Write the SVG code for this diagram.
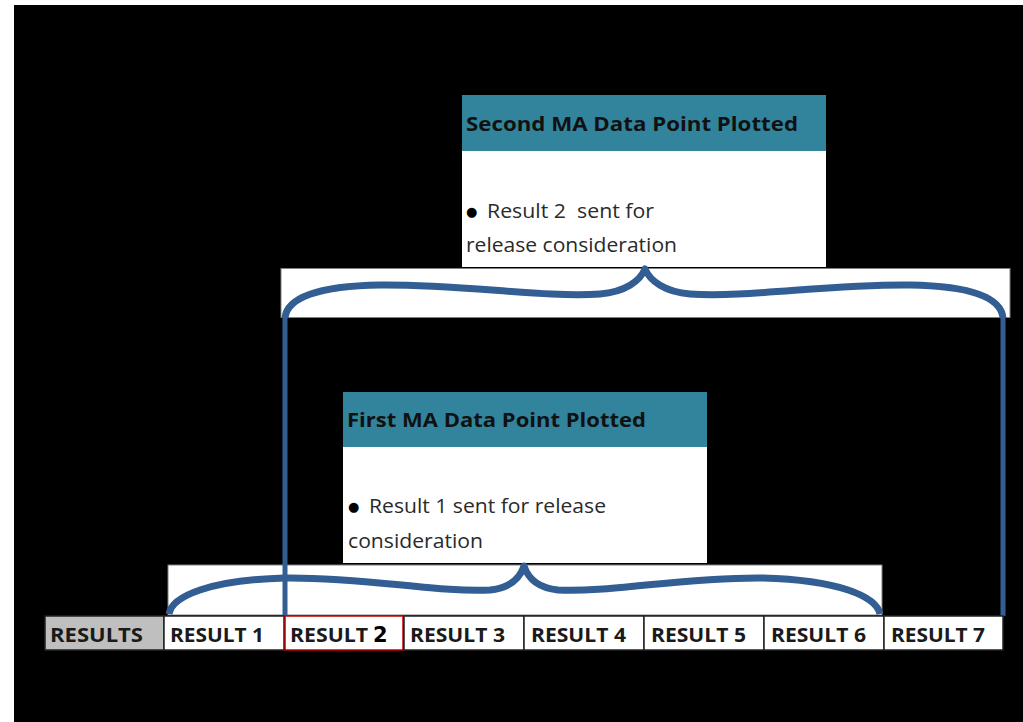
<svg xmlns="http://www.w3.org/2000/svg" width="1023" height="722" viewBox="0 0 1023 722">
<style>
.hdr{fill:#31849B}
.body{fill:#ffffff}
.brbox{fill:#ffffff;stroke:#808080;stroke-width:1}
.brace{fill:none;stroke:#325E94;stroke-width:7;stroke-linecap:butt;stroke-linejoin:round}
.vline{fill:none;stroke:#325E94;stroke-width:5}
.ht{font-family:"Open Sans","Liberation Sans",sans-serif;font-weight:bold;font-size:20px;fill:#111}
.bt{font-family:"Open Sans","Liberation Sans",sans-serif;font-size:20px;fill:#2a2a2a}
.bul{font-family:"DejaVu Sans",sans-serif;font-size:13px;fill:#000}
.cell{fill:#ffffff;stroke:#222;stroke-width:1.5}
.ct{font-family:"Open Sans","Liberation Sans",sans-serif;font-weight:bold;font-size:19px;fill:#1a1a1a}
</style>
<rect x="0" y="0" width="1023" height="722" fill="#000"/>
<rect x="0" y="0" width="1023" height="5" fill="#fff"/>
<rect x="0" y="0" width="14" height="722" fill="#fff"/>

<g id="bracket-top-box">
<rect class="brbox" x="281" y="268.5" width="729" height="49"/>
</g>
<g id="bracket-bottom-box">
<rect class="brbox" x="168" y="565" width="714" height="50"/>
</g>

<g id="node-second">
<rect class="hdr" x="462" y="95" width="364" height="56"/>
<rect class="body" x="462" y="151" width="364" height="116"/>
<text class="ht" x="466" y="131" textLength="332" lengthAdjust="spacingAndGlyphs">Second MA Data Point Plotted</text>
<text class="bul" x="466" y="216">●</text>
<text class="bt" x="487" y="218" xml:space="preserve" textLength="167" lengthAdjust="spacingAndGlyphs">Result 2  sent for</text>
<text class="bt" x="466" y="252" textLength="211" lengthAdjust="spacingAndGlyphs">release consideration</text>
</g>

<g id="node-first">
<rect class="hdr" x="343" y="392" width="364" height="55"/>
<rect class="body" x="343" y="447" width="364" height="116"/>
<text class="ht" x="347" y="427" textLength="299" lengthAdjust="spacingAndGlyphs">First MA Data Point Plotted</text>
<text class="bul" x="348" y="511">●</text>
<text class="bt" x="369" y="513" textLength="237" lengthAdjust="spacingAndGlyphs">Result 1 sent for release</text>
<text class="bt" x="348" y="548" textLength="135" lengthAdjust="spacingAndGlyphs">consideration</text>
</g>

<g id="connectors">
<path class="brace" d="M 285 318 C 287 297, 320 286, 380 285 C 460 284, 545 298, 600 294 C 625 292, 640 281, 645 269 C 650 281, 665 292, 690 294 C 745 298, 830 284, 910 285 C 970 286, 1001 297, 1003 318"/>
<path class="brace" d="M 169 614 C 172 596, 210 580, 285 578 C 365 577, 440 593, 490 590 C 510 588, 520 578, 524 566 C 528 578, 538 588, 558 590 C 608 593, 683 577, 763 578 C 838 580, 876 596, 880 614"/>
<line class="vline" x1="285" y1="316" x2="285" y2="616"/>
<line class="vline" x1="1003" y1="316" x2="1003" y2="616"/>
</g>

<g id="row">
<g id="cell-results"><rect x="45" y="616" width="119" height="34" fill="#BFBFBF" stroke="#222" stroke-width="1.5"/><text class="ct" x="50" y="642" textLength="93" lengthAdjust="spacingAndGlyphs">RESULTS</text></g>
<g id="cell-r1"><rect class="cell" x="164" y="616" width="120" height="34"/><text class="ct" x="170" y="642" textLength="94" lengthAdjust="spacingAndGlyphs">RESULT 1</text></g>
<g id="cell-r2"><rect x="285" y="616" width="118" height="34" fill="#fff" stroke="#C00000" stroke-width="1.5"/><text class="ct" x="290" y="642" fill="#333"><tspan textLength="78" lengthAdjust="spacingAndGlyphs">RESULT</tspan><tspan font-family="'DejaVu Sans',sans-serif" font-size="21px" fill="#000" dx="5">2</tspan></text></g>
<g id="cell-r3"><rect class="cell" x="404" y="616" width="120" height="34"/><text class="ct" x="410" y="642" textLength="95" lengthAdjust="spacingAndGlyphs">RESULT 3</text></g>
<g id="cell-r4"><rect class="cell" x="524" y="616" width="120" height="34"/><text class="ct" x="531" y="642" textLength="95" lengthAdjust="spacingAndGlyphs">RESULT 4</text></g>
<g id="cell-r5"><rect class="cell" x="644" y="616" width="120" height="34"/><text class="ct" x="651" y="642" textLength="95" lengthAdjust="spacingAndGlyphs">RESULT 5</text></g>
<g id="cell-r6"><rect class="cell" x="764" y="616" width="120" height="34"/><text class="ct" x="771" y="642" textLength="95" lengthAdjust="spacingAndGlyphs">RESULT 6</text></g>
<g id="cell-r7"><rect class="cell" x="884" y="616" width="119" height="34"/><text class="ct" x="891" y="642" textLength="94" lengthAdjust="spacingAndGlyphs">RESULT 7</text></g>
</g>
</svg>
